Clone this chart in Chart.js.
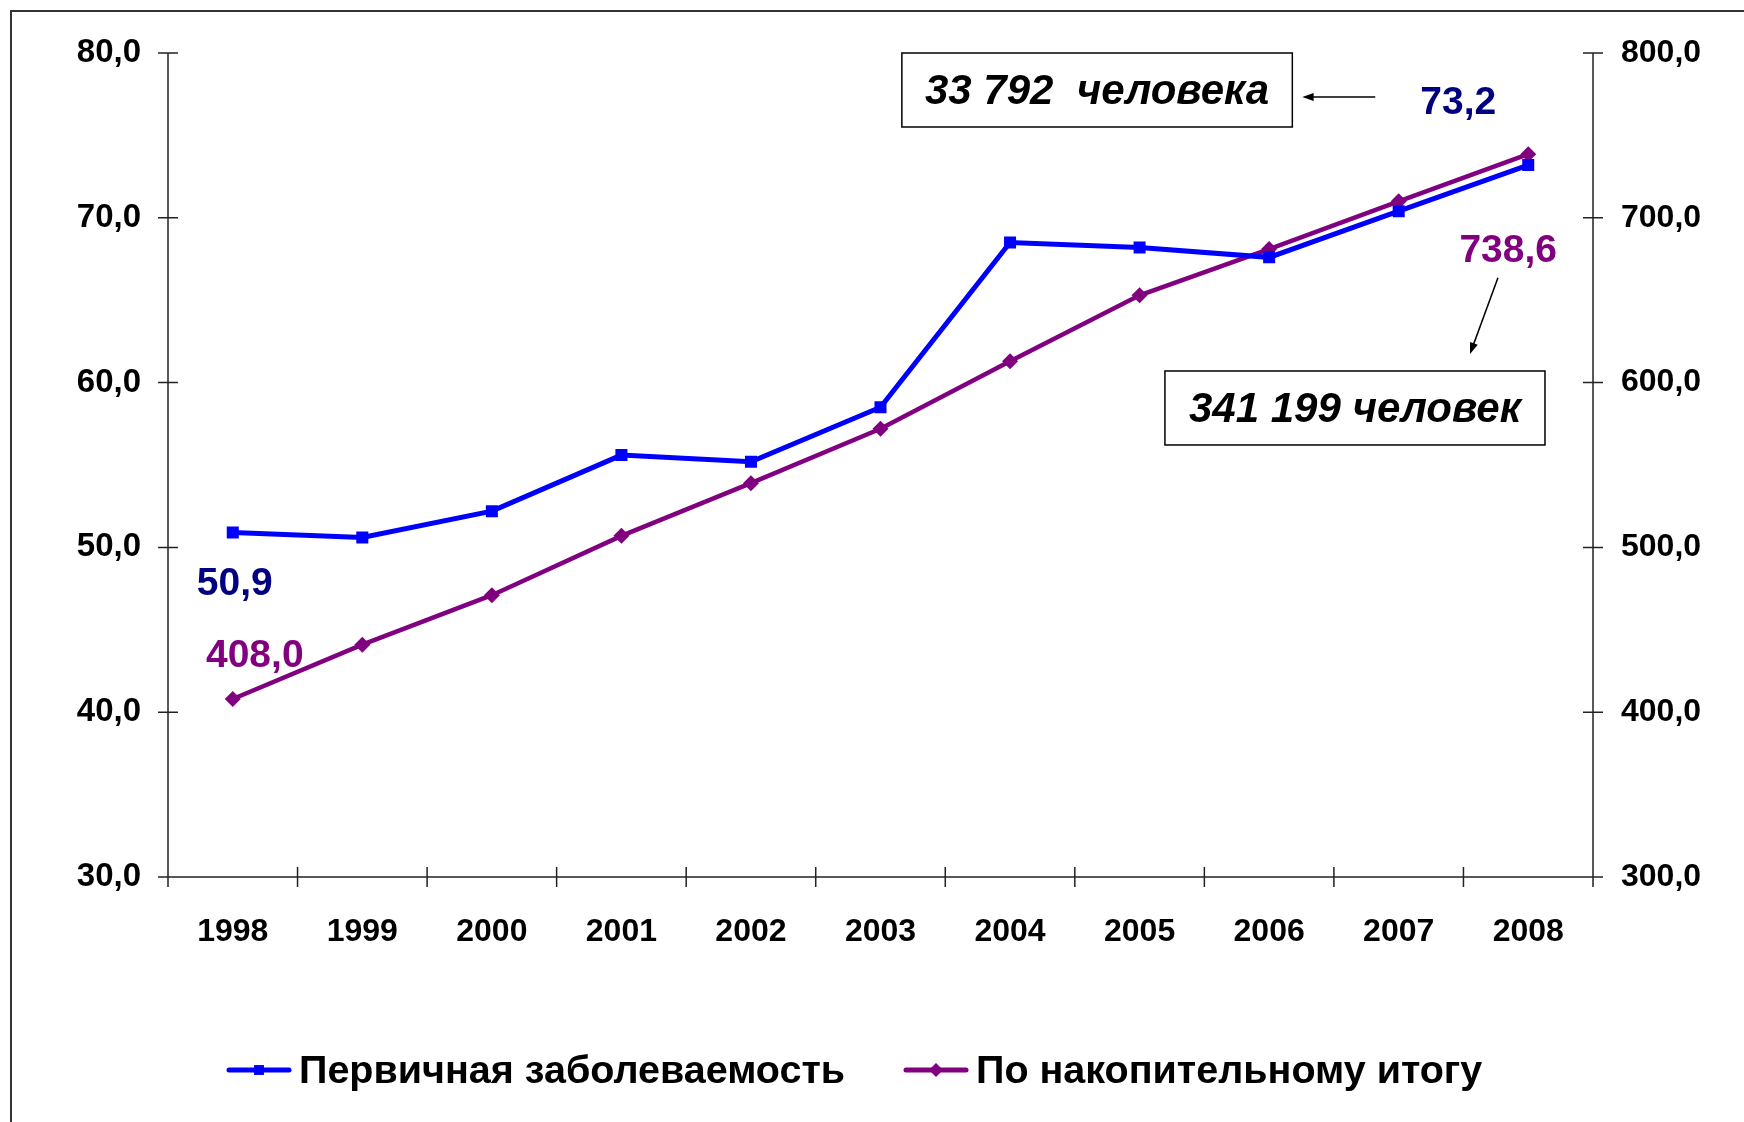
<!DOCTYPE html>
<html>
<head>
<meta charset="utf-8">
<script src="https://cdn.jsdelivr.net/npm/chart.js@4.4.1/dist/chart.umd.min.js"></script>
<style>
    html, body { margin: 0; padding: 0; background: #fff; }
    #wrap { width: 1744px; height: 1122px; }
</style>
</head>
<body>
<div id="wrap"><canvas id="myChart" width="1744" height="1122"></canvas></div>
<script>
const years = ["1998", "1999", "2000", "2001", "2002", "2003", "2004", "2005", "2006", "2007", "2008"];
const seriesNames = ["Первичная заболеваемость", "По накопительному итогу"];
const incidence = [50.9, 50.6, 52.2, 55.6, 55.2, 58.5, 68.5, 68.2, 67.6, 70.4, 73.2];
const cumulative = [408.0, 441.0, 471.0, 507.0, 539.0, 572.0, 613.0, 653.0, 681.0, 710.0, 738.6];
const leftTicks = [30, 40, 50, 60, 70, 80];
const rightTicks = [300, 400, 500, 600, 700, 800];
const notes = ["33 792  человека", "341 199 человек"];

const FONT = "'Liberation Sans', Arial, sans-serif";
const BLUE = "#0000FF";
const PURPLE = "#800080";

function fmt(v) {
    return v.toFixed(1).replace(".", ",");
}

function arrow(ctx, x1, y1, x2, y2) {
    const ang = Math.atan2(y2 - y1, x2 - x1);
    const len = 12;
    ctx.beginPath();
    ctx.moveTo(x1, y1);
    ctx.lineTo(x2 - Math.cos(ang) * 6, y2 - Math.sin(ang) * 6);
    ctx.stroke();
    ctx.beginPath();
    ctx.moveTo(x2, y2);
    ctx.lineTo(x2 - len * Math.cos(ang - 0.35), y2 - len * Math.sin(ang - 0.35));
    ctx.lineTo(x2 - len * Math.cos(ang + 0.35), y2 - len * Math.sin(ang + 0.35));
    ctx.closePath();
    ctx.fill();
}

// Рамка, оси с крестообразными засечками, подписи и легенда
const axesPlugin = {
    id: "axes",
    beforeDraw(chart) {
        const ctx = chart.ctx;
        ctx.save();
        ctx.fillStyle = "#fff";
        ctx.fillRect(0, 0, chart.width, chart.height);
        ctx.strokeStyle = "#333";
        ctx.lineWidth = 2;
        ctx.beginPath();
        ctx.moveTo(11, chart.height);
        ctx.lineTo(11, 11);
        ctx.lineTo(chart.width, 11);
        ctx.stroke();
        ctx.restore();
    },
    beforeDatasetsDraw(chart) {
        const ctx = chart.ctx;
        const a = chart.chartArea;
        const x = chart.scales.x;
        const yl = chart.scales.y;
        const yr = chart.scales.y2;
        const t = 10;
        ctx.save();
        ctx.strokeStyle = "#222";
        ctx.lineWidth = 1.5;
        ctx.beginPath();
        ctx.moveTo(a.left, a.top);
        ctx.lineTo(a.left, a.bottom);
        ctx.moveTo(a.right, a.top);
        ctx.lineTo(a.right, a.bottom);
        ctx.moveTo(a.left - t, a.bottom);
        ctx.lineTo(a.right + t, a.bottom);
        leftTicks.forEach(v => {
            const py = yl.getPixelForValue(v);
            ctx.moveTo(a.left - t, py);
            ctx.lineTo(a.left + t, py);
        });
        rightTicks.forEach(v => {
            const py = yr.getPixelForValue(v);
            ctx.moveTo(a.right - t, py);
            ctx.lineTo(a.right + t, py);
        });
        const step = x.getPixelForValue(1) - x.getPixelForValue(0);
        for (let i = 0; i <= years.length; i++) {
            const px = x.getPixelForValue(0) - step / 2 + i * step;
            ctx.moveTo(px, a.bottom - t);
            ctx.lineTo(px, a.bottom + t);
        }
        ctx.stroke();
        ctx.restore();
    },
    afterDraw(chart) {
        const ctx = chart.ctx;
        const a = chart.chartArea;
        const m0 = chart.getDatasetMeta(0).data;
        const m1 = chart.getDatasetMeta(1).data;
        const last = years.length - 1;
        ctx.save();

        // подписи крайних значений
        ctx.font = "bold 39px " + FONT;
        ctx.textAlign = "center";
        ctx.textBaseline = "middle";
        ctx.fillStyle = "#000080";
        ctx.fillText(fmt(incidence[0]), m0[0].x + 2, m0[0].y + 52);
        ctx.fillText(fmt(incidence[last]), m0[last].x - 70, m0[last].y - 62);
        ctx.fillStyle = PURPLE;
        ctx.fillText(fmt(cumulative[0]), m1[0].x + 22, m1[0].y - 43);
        ctx.fillText(fmt(cumulative[last]), m1[last].x - 20, m1[last].y + 97);

        // выноски с численностью
        const w = a.right - a.left;
        const h = a.bottom - a.top;
        const boxes = [
            { l: a.left + 0.515 * w, t: a.top, r: a.left + 0.789 * w, b: a.top + 0.0898 * h },
            { l: a.left + 0.6996 * w, t: a.top + 0.3859 * h, r: a.left + 0.9663 * w, b: a.top + 0.4757 * h }
        ];
        ctx.font = "italic bold 42px " + FONT;
        ctx.fillStyle = "#000";
        ctx.strokeStyle = "#000";
        ctx.lineWidth = 1.5;
        boxes.forEach((bx, i) => {
            ctx.strokeRect(bx.l, bx.t, bx.r - bx.l, bx.b - bx.t);
            ctx.fillText(notes[i], (bx.l + bx.r) / 2, (bx.t + bx.b) / 2 + 2);
        });
        arrow(ctx, a.left + 0.8472 * w, a.top + 0.0534 * h, boxes[0].r + 10, a.top + 0.0534 * h);
        arrow(ctx, a.left + 0.9333 * w, a.top + 0.2728 * h, a.left + 0.9137 * w, a.top + 0.3653 * h);

        // легенда
        const items = [
            { x: 229, color: BLUE, style: "rect" },
            { x: 906, color: PURPLE, style: "rectRot" }
        ];
        const ly = 1070;
        ctx.font = "bold 39.5px " + FONT;
        ctx.textAlign = "left";
        items.forEach((it, i) => {
            ctx.strokeStyle = it.color;
            ctx.fillStyle = it.color;
            ctx.lineWidth = 5;
            ctx.lineCap = "round";
            ctx.beginPath();
            ctx.moveTo(it.x, ly);
            ctx.lineTo(it.x + 60, ly);
            ctx.stroke();
            Chart.helpers.drawPoint(ctx, { pointStyle: it.style, radius: 7, borderWidth: 0 }, it.x + 30, ly);
            ctx.fillStyle = "#000";
            ctx.fillText(seriesNames[i], it.x + 70, ly + 2);
        });
        ctx.restore();
    }
};

const ctx = document.getElementById("myChart").getContext("2d");

new Chart(ctx, {
    type: "line",
    data: {
        labels: years,
        datasets: [{
            label: seriesNames[0],
            data: incidence,
            yAxisID: "y",
            borderColor: BLUE,
            backgroundColor: BLUE,
            borderWidth: 5,
            pointStyle: "rect",
            pointRadius: 8.5,
            pointBorderWidth: 0,
            tension: 0
        }, {
            label: seriesNames[1],
            data: cumulative,
            yAxisID: "y2",
            borderColor: PURPLE,
            backgroundColor: PURPLE,
            borderWidth: 4.5,
            pointStyle: "rectRot",
            pointRadius: 8,
            pointBorderWidth: 0,
            tension: 0
        }]
    },
    options: {
        responsive: false,
        animation: false,
        layout: { padding: { top: 53, left: 0, right: 0, bottom: 0 } },
        plugins: {
            legend: { display: false },
            tooltip: { enabled: false }
        },
        scales: {
            x: {
                offset: true,
                grid: { display: false, drawTicks: false, tickLength: 0 },
                border: { display: false },
                ticks: {
                    color: "#000",
                    padding: 36,
                    maxRotation: 0,
                    font: { family: FONT, size: 32, weight: "bold" }
                },
                afterFit(scale) { scale.height = 245; }
            },
            y: {
                position: "left",
                min: leftTicks[0],
                max: leftTicks[leftTicks.length - 1],
                grid: { display: false, drawTicks: false, tickLength: 0 },
                border: { display: false },
                ticks: {
                    stepSize: leftTicks[1] - leftTicks[0],
                    color: "#000",
                    padding: 27,
                    font: { family: FONT, size: 33, weight: "bold" },
                    callback: v => fmt(v)
                },
                afterFit(scale) { scale.width = 168; }
            },
            y2: {
                position: "right",
                min: rightTicks[0],
                max: rightTicks[rightTicks.length - 1],
                grid: { display: false, drawTicks: false, tickLength: 0 },
                border: { display: false },
                ticks: {
                    stepSize: rightTicks[1] - rightTicks[0],
                    color: "#000",
                    padding: 28,
                    font: { family: FONT, size: 32, weight: "bold" },
                    callback: v => fmt(v)
                },
                afterFit(scale) { scale.width = 151; }
            }
        }
    },
    plugins: [axesPlugin]
});
</script>
</body>
</html>
